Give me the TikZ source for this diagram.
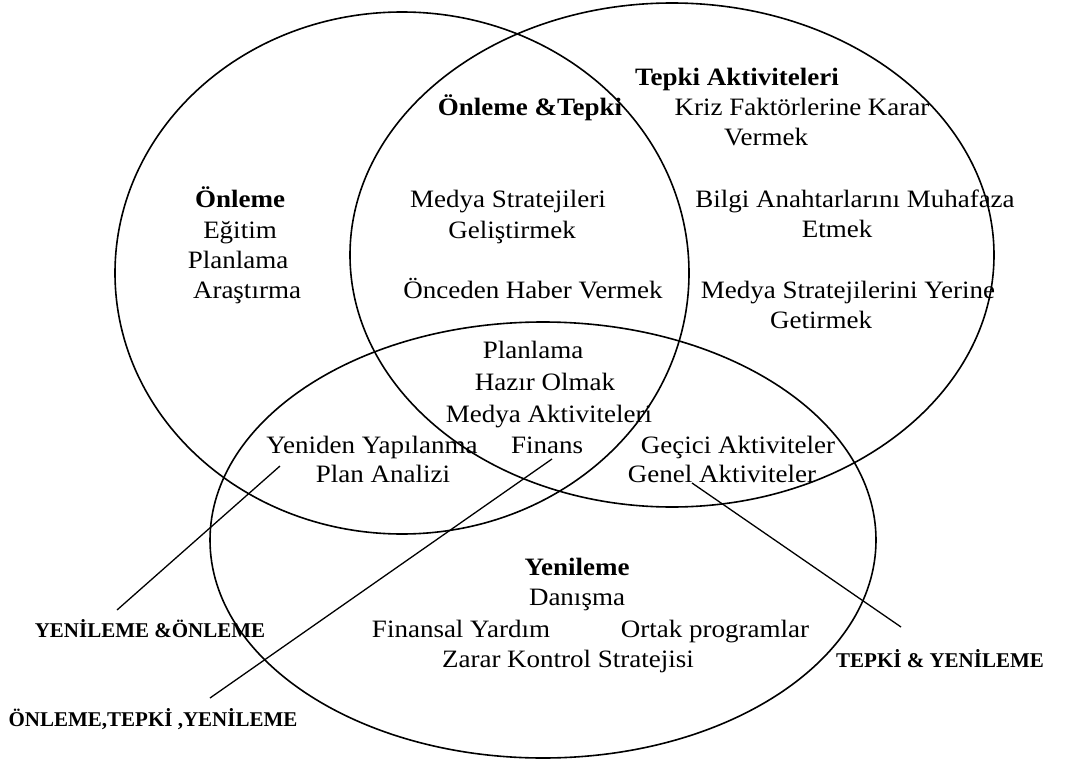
\documentclass[tikz,border=0pt]{standalone}
\usepackage{fontspec}
\setmainfont{Liberation Serif}[FakeStretch=1.08]
\newfontfamily\tagfont{Liberation Serif}
\usepackage{tikz}

\begin{document}
\begin{tikzpicture}[x=1pt, y=-1pt,
    txt/.style={anchor=base, font=\fontsize{25}{30}\selectfont},
    head/.style={anchor=base, font=\fontsize{25}{30}\selectfont\bfseries},
    tag/.style={anchor=base, font=\tagfont\fontsize{21}{25}\selectfont\bfseries}]
            \useasboundingbox (0,0) rectangle (1074,760);

            % Circles
            \draw[line width=1.6pt] (402,273) ellipse [x radius=287pt, y radius=261pt];
            \draw[line width=1.6pt] (672,255) ellipse [x radius=322pt, y radius=252pt];
            \draw[line width=1.6pt] (543,540) ellipse [x radius=333pt, y radius=218pt];

            % Onleme
            \node[head] (onl-0) at (240,207) {Önleme};
            \node[txt] (onl-1) at (240,238) {Eğitim};
            \node[txt] (onl-2) at (238,268) {Planlama};
            \node[txt] (onl-3) at (247,298) {Araştırma};

            % Onleme & Tepki
            \node[head] (ot-0) at (530,115) {Önleme \&Tepki};
            \node[txt] (ot-1) at (508,207) {Medya Stratejileri};
            \node[txt] (ot-2) at (512,238) {Geliştirmek};
            \node[txt] (ot-3) at (533,298) {Önceden Haber Vermek};

            % Tepki
            \node[head] (tep-0) at (737,85) {Tepki Aktiviteleri};
            \node[txt] (tep-1) at (802,115) {Kriz Faktörlerine Karar};
            \node[txt] (tep-2) at (766,145) {Vermek};
            \node[txt] (tep-3) at (855,207) {Bilgi Anahtarlarını Muhafaza};
            \node[txt] (tep-4) at (837,237) {Etmek};
            \node[txt] (tep-5) at (848,298) {Medya Stratejilerini Yerine};
            \node[txt] (tep-6) at (821,328) {Getirmek};

            % All three
            \node[txt] (otr-1) at (533,358) {Planlama};
            \node[txt] (otr-2) at (545,390) {Hazır Olmak};
            \node[txt] (otr-3) at (549,422) {Medya Aktiviteleri};
            \node[txt] (otr-4) at (547,453) {Finans};

            % Yenileme & Onleme
            \node[txt] (ro-1) at (372,453) {Yeniden Yapılanma};
            \node[txt] (ro-2) at (383,482) {Plan Analizi};

            % Tepki & Yenileme
            \node[txt] (tr-1) at (738,453) {Geçici Aktiviteler};
            \node[txt] (tr-2) at (722,482) {Genel Aktiviteler};

            % Yenileme
            \node[head] (yen-0) at (577,575) {Yenileme};
            \node[txt] (yen-1) at (577,605) {Danışma};
            \node[txt] (yen-2) at (461,637) {Finansal Yardım};
            \node[txt] (yen-3) at (715,637) {Ortak programlar};
            \node[txt] (yen-4) at (568,667) {Zarar Kontrol Stratejisi};

            % Labels outside
            \node[tag] (tag-ro) at (150,637) {YENİLEME \&ÖNLEME};
            \node[tag] (tag-otr) at (153,726) {ÖNLEME,TEPKİ ,YENİLEME};
            \node[tag] (tag-tr) at (940,667) {TEPKİ \& YENİLEME};

            % Pointer lines
            \coordinate (ro-a) at (280,466);
            \coordinate (ro-b) at (117,610);
            \coordinate (otr-a) at (552,459);
            \coordinate (otr-b) at (210,698);
            \coordinate (tr-a) at (692,483);
            \coordinate (tr-b) at (901,627);
            \draw[line width=1.3pt] (ro-a) -- (ro-b);
            \draw[line width=1.3pt] (otr-a) -- (otr-b);
            \draw[line width=1.3pt] (tr-a) -- (tr-b);
        \end{tikzpicture}
\end{document}
